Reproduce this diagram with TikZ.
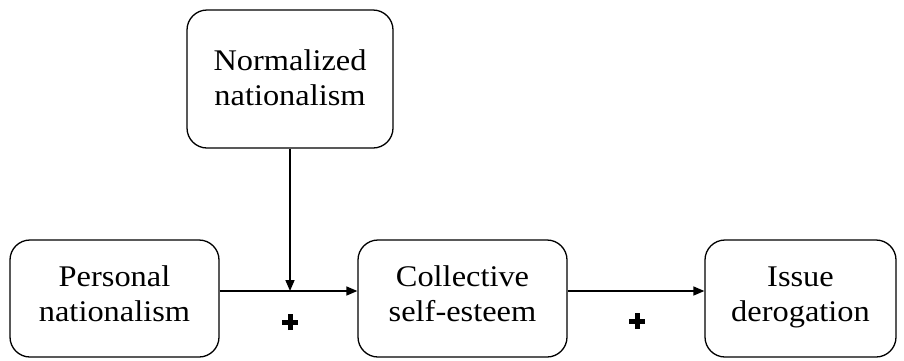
\documentclass[tikz,border=0pt]{standalone}
\usepackage{fontspec}
\setmainfont[FakeStretch=1.08]{Liberation Serif}
\usetikzlibrary{arrows.meta}
\begin{document}
\begin{tikzpicture}[x=1pt,y=-1pt,
  box/.style={draw, line width=1.3pt, rounded corners=20pt, inner sep=0pt},
  txt/.style={align=center, font=\fontsize{30}{35}\selectfont, inner sep=0pt},
  conn/.style={line width=1.6pt, -{Triangle[length=11pt,width=9pt]}},
  plusbar/.style={line width=5pt}]
\useasboundingbox (0,0) rectangle (904,360);
\node[box, minimum width=206pt, minimum height=138pt] (norm) at (290,79) {};
\node[box, minimum width=209pt, minimum height=117pt] (pers) at (114.5,298.5) {};
\node[box, minimum width=209pt, minimum height=117pt] (coll) at (462.5,298.5) {};
\node[box, minimum width=191pt, minimum height=117pt] (issue) at (800.5,298.5) {};
\node[txt] (normt) at ([yshift=1pt]norm.center) {Normalized\\nationalism};
\node[txt] (perst) at ([yshift=5pt]pers.center) {Personal\\nationalism};
\node[txt] (collt) at ([yshift=5pt]coll.center) {Collective\\self-esteem};
\node[txt] (issuet) at ([yshift=1pt]issue.center) {Issue\\derogation};
\coordinate (j) at (norm.south |- 0,291);
\draw[conn] (pers.east |- j) -- (coll.west |- j);
\draw[conn] (norm.south) -- (j);
\draw[conn] (coll.east |- j) -- (issue.west |- j);
\coordinate (p1) at (290,322);
\coordinate (p2) at (637,321);
\draw[plusbar] ([xshift=-8pt]p1) -- ([xshift=8pt]p1) ([yshift=-8pt]p1) -- ([yshift=8pt]p1);
\draw[plusbar] ([xshift=-8pt]p2) -- ([xshift=8pt]p2) ([yshift=-8pt]p2) -- ([yshift=8pt]p2);
\end{tikzpicture}
\end{document}
